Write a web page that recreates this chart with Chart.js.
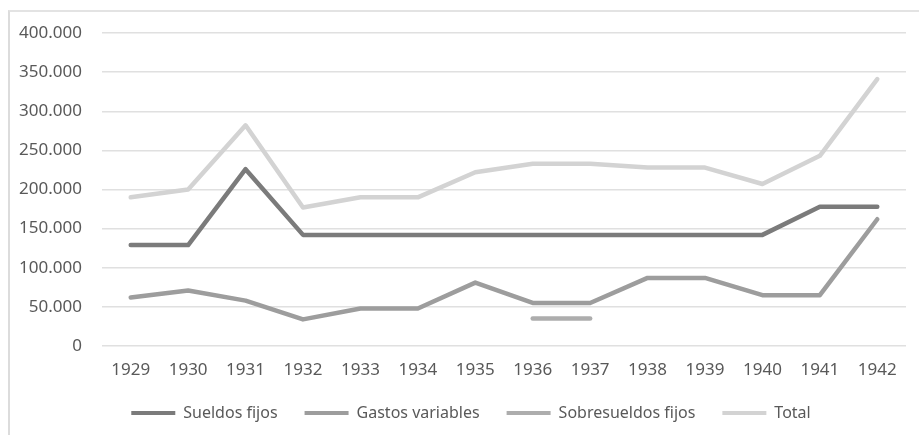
<!DOCTYPE html>
<html>
<head>
<meta charset="utf-8">
<script src="https://cdn.jsdelivr.net/npm/chart.js@4"></script>
<style>
  html, body { margin: 0; padding: 0; background: #fff; }
  #wrap { position: relative; width: 919px; height: 435px; overflow: hidden; }
  #frame { position: absolute; left: 8px; top: 10px; width: 930px; height: 460px;
           border-left: 2px solid #dcdcdc; border-top: 2px solid #e3e3e3; }
  canvas { position: absolute; left: 0; top: 0; }
</style>
</head>
<body>
<div id="wrap">
  <div id="frame"></div>
  <canvas id="chart" width="919" height="435"></canvas>
</div>
<script>
const years = ["1929", "1930", "1931", "1932", "1933", "1934", "1935", "1936", "1937", "1938", "1939", "1940", "1941", "1942"];

const sueldosFijos = [129000, 129000, 226000, 142000, 142000, 142000, 142000, 142000, 142000, 142000, 142000, 142000, 178000, 178000];
const gastosVariables = [62000, 71000, 58000, 34000, 48000, 48000, 81000, 55000, 55000, 87000, 87000, 65000, 65000, 162000];
const sobresueldosFijos = [null, null, null, null, null, null, null, 35000, 35000, null, null, null, null, null];
const total = [190000, 200000, 282000, 177000, 190000, 190000, 222000, 233000, 233000, 228000, 228000, 207000, 243000, 341000];

const fontFamily = "'Noto Sans', 'Open Sans', sans-serif";

const line = (label, data, color) => ({
  label,
  data,
  borderColor: color,
  backgroundColor: color,
  borderWidth: 4.5,
  pointRadius: 0,
  tension: 0,
  borderCapStyle: "round",
  borderJoinStyle: "round",
  spanGaps: false,
});

// the left padding is only there to re-centre the legend; widen the y axis
// box back to the edge so its labels are not clipped
const unclipY = {
  id: "unclipY",
  afterLayout(chart) {
    chart.scales.y.left = 0;
  },
};

new Chart(document.getElementById("chart"), {
  type: "line",
  data: {
    labels: years,
    datasets: [
      line("Sueldos fijos", sueldosFijos, "#7b7b7b"),
      line("Gastos variables", gastosVariables, "#9d9d9d"),
      line("Sobresueldos fijos", sobresueldosFijos, "#adadad"),
      line("Total", total, "#d3d3d3"),
    ],
  },
  plugins: [unclipY],
  options: {
    responsive: false,
    animation: false,
    layout: { padding: { left: 36, right: 13, top: 33, bottom: 4 } },
    plugins: {
      tooltip: { enabled: false },
      legend: {
        position: "bottom",
        labels: {
          color: "#595959",
          font: { family: fontFamily, size: 16 },
          boxWidth: 44,
          boxHeight: 4,
          padding: 27,
          generateLabels: (chart) =>
            chart.data.datasets.map((ds, i) => ({
              text: ds.label,
              fillStyle: ds.borderColor,
              strokeStyle: ds.borderColor,
              lineWidth: 0,
              fontColor: "#595959",
              datasetIndex: i,
            })),
        },
      },
    },
    scales: {
      x: {
        offset: true,
        afterFit: (scale) => { scale.height = 32; },
        grid: { display: false, drawTicks: false },
        border: { display: false },
        ticks: { color: "#595959", font: { family: fontFamily, size: 17 }, padding: 14, maxRotation: 0 },
      },
      y: {
        min: 0,
        max: 400000,
        afterFit: (scale) => { scale.width = 66; },
        grid: { color: "#e0e0e0", lineWidth: 1.5, drawTicks: false },
        border: { display: false },
        ticks: {
          stepSize: 50000,
          padding: 20,
          color: "#595959",
          font: { family: fontFamily, size: 17 },
          callback: (v) => v.toLocaleString("de-DE"),
        },
      },
    },
  },
});
</script>
</body>
</html>
